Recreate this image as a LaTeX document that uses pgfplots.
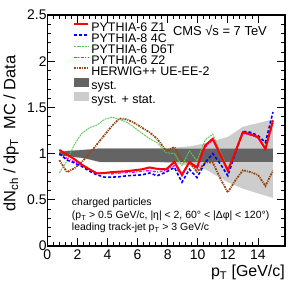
\documentclass[border=0pt]{standalone}
\usepackage{fontspec}
\setmainfont{Liberation Sans}
\usepackage{pgfplots}
\pgfplotsset{compat=1.18}
\definecolor{cred}{RGB}{255,0,0}
\definecolor{cblue}{RGB}{0,0,255}
\definecolor{cgreen}{RGB}{90,200,90}
\definecolor{cmag}{RGB}{255,0,255}
\definecolor{cbrown}{RGB}{150,70,20}
\definecolor{cdark}{RGB}{100,100,100}
\definecolor{clight}{RGB}{205,205,205}
\begin{document}
\begin{tikzpicture}
\path[use as bounding box] (-47.3bp,-39.3bp) rectangle (249.7bp,246bp);
\begin{axis}[
  at={(0,0)}, anchor=south west,
  scale only axis, width=237.7bp, height=231bp,
  xmin=0, xmax=15.8, ymin=0, ymax=2.5,
  xtick={0,2,...,14}, ytick={0,0.5,1,1.5,2,2.5},
  minor x tick num=4, minor y tick num=4,
  tick align=inside, major tick length=8bp, minor tick length=4bp,
  axis line style={line width=1.1bp},
  every tick/.style={black, line width=0.8bp},
  /pgf/number format/assume math mode=true,
  ticklabel style={font=\fontsize{14}{14}\selectfont},
  yticklabel style={inner sep=0.5bp},
  xticklabel style={inner sep=0bp, yshift=-4bp},
  xlabel={p\textsubscript{T} [GeV/c]},
  xlabel style={at={(rel axis cs:1,0)}, anchor=base east, yshift=-30.5bp, inner sep=0bp, font=\fontsize{16}{16}\selectfont},
  ylabel={dN\textsubscript{ch} / dp\textsubscript{T}\ \ MC / Data},
  ylabel style={at={(rel axis cs:-0.1338,0.487)}, anchor=base, inner sep=0bp, font=\fontsize{16.5}{16.5}\selectfont},
  legend style={draw=none, fill=none, at={(rel axis cs:0.107,0.967)}, anchor=north west,
    inner sep=0bp, outer sep=0bp, row sep=0bp,
    font=\fontsize{12.5}{12.5}\selectfont,
    nodes={text height=8.7bp, text depth=2.4bp, inner sep=0bp, outer sep=0bp}},
  legend cell align=left,
]
% legend entries
\addlegendimage{legend image code/.code={\draw[cred, line width=2bp] (0bp,4.3bp) -- (14.6bp,4.3bp);}}
\addlegendentry{\hspace{2bp}PYTHIA-6 Z1}
\addlegendimage{legend image code/.code={\draw[cblue, line width=1.6bp, dash pattern=on 3bp off 2bp] (0bp,4.3bp) -- (14.6bp,4.3bp);}}
\addlegendentry{\hspace{2bp}PYTHIA-8 4C}
\addlegendimage{legend image code/.code={\draw[cgreen, line width=0.9bp, dash pattern=on 2bp off 0.8bp] (0bp,4.3bp) -- (14.6bp,4.3bp);}}
\addlegendentry{\hspace{2bp}PYTHIA-6 D6T}
\addlegendimage{legend image code/.code={\draw[cmag, line width=1.3bp, dash pattern=on 3bp off 1.5bp on 1bp off 1.5bp] (0bp,4.3bp) -- (14.6bp,4.3bp);}}
\addlegendentry{\hspace{2bp}PYTHIA-6 Z2}
\addlegendimage{legend image code/.code={\draw[cbrown, line width=1.8bp, dash pattern=on 2bp off 1bp on 1bp off 1bp] (0bp,4.3bp) -- (14.6bp,4.3bp);}}
\addlegendentry{\hspace{2bp}HERWIG++ UE-EE-2}
\addlegendimage{legend image code/.code={\fill[cdark] (0.6bp,0.3bp) rectangle (14bp,8.3bp);}}
\addlegendentry{\hspace{2bp}syst.}
\addlegendimage{legend image code/.code={\fill[clight] (0.6bp,0.3bp) rectangle (14bp,8.3bp);}}
\addlegendentry{\hspace{2bp}syst. + stat.}

% syst + stat band
\addplot[fill=clight, draw=none, forget plot] coordinates {
 (0.8,1.025) (1.5,1.035) (2.5,1.045) (3.5,1.06) (7.5,1.06) (8.5,1.065) (9.5,1.08) (10.5,1.11) (12,1.18) (13,1.29) (14,1.33) (15,1.37)
 (15,0.52) (14,0.57) (13,0.62) (12,0.69) (10.5,0.83) (9.5,0.87) (8.5,0.89) (7.5,0.905) (3.5,0.905) (2.5,0.945) (1.5,0.965) (0.8,0.975)
} -- cycle;
% syst band
\addplot[fill=cdark, draw=none, forget plot] coordinates {
 (0.8,1.02) (1.5,1.03) (2.5,1.04) (3.5,1.055) (15,1.055)
 (15,0.91) (3.5,0.91) (2.5,0.95) (1.5,0.97) (0.8,0.98)
} -- cycle;

% HERWIG++
\addplot[cbrown, line width=1.8bp, dash pattern=on 2bp off 1bp on 1bp off 1bp, forget plot] coordinates {
 (0.8,0.93) (1.3,0.80) (1.8,0.84) (2.3,0.91) (2.8,1.00) (3.3,1.10) (3.8,1.20) (4.3,1.30) (4.8,1.38) (5.3,1.37)
 (5.8,1.33) (6.3,1.28) (6.8,1.23) (7.3,1.16) (7.9,1.03) (8.45,1.07) (8.95,0.92) (9.45,0.905) (9.95,0.80) (10.5,0.905)
 (11.0,0.905) (11.5,0.73) (12.0,0.58) (12.5,0.71) (13.0,0.82) (13.5,0.80) (14.0,0.77) (14.5,0.65) (15.0,0.815)
};
% D6T
\addplot[cgreen, line width=0.9bp, dash pattern=on 2bp off 0.8bp, forget plot] coordinates {
 (0.8,0.79) (1.3,0.92) (1.8,1.10) (2.3,1.22) (2.8,1.28) (3.3,1.31) (3.8,1.37) (4.3,1.395) (4.8,1.37) (5.3,1.34)
 (5.8,1.28) (6.3,1.22) (6.8,1.16) (7.3,1.12) (7.9,1.01) (8.45,1.00) (8.95,0.87) (9.45,1.03) (9.95,0.92) (10.5,1.15)
 (11.0,1.21) (11.5,1.02) (12.0,0.83) (12.5,1.03) (13.0,1.24) (13.5,1.22) (14.0,1.18) (14.5,1.06) (15.0,1.33)
};
% Z2
\addplot[cmag, line width=1.3bp, dash pattern=on 3bp off 1.5bp on 1bp off 1.5bp, forget plot] coordinates {
 (0.8,0.99) (1.3,0.95) (1.8,0.91) (2.3,0.87) (2.8,0.83) (3.3,0.79) (3.8,0.79) (4.3,0.78) (4.8,0.79) (5.3,0.795)
 (5.8,0.80) (6.3,0.81) (6.8,0.815) (7.3,0.80) (7.9,0.82) (8.45,0.87) (8.95,0.76) (9.45,0.90) (9.95,0.83) (10.5,1.07)
 (11.0,1.15) (11.5,0.98) (12.0,0.82) (12.5,1.02) (13.0,1.22) (13.5,1.20) (14.0,1.17) (14.5,1.05) (15.0,1.33)
};
% 4C
\addplot[cblue, line width=1.6bp, dash pattern=on 3bp off 2bp, forget plot] coordinates {
 (0.8,1.00) (1.3,0.93) (1.8,0.90) (2.3,0.86) (2.8,0.81) (3.3,0.77) (3.8,0.745) (4.3,0.745) (4.8,0.75) (5.3,0.76)
 (5.8,0.765) (6.3,0.77) (6.8,0.79) (7.3,0.76) (7.9,0.80) (8.45,0.85) (8.95,0.69) (9.45,0.83) (9.95,0.74) (10.5,0.905)
 (11.0,1.00) (11.5,0.89) (12.0,0.76) (12.5,1.01) (13.0,1.24) (13.5,1.23) (14.0,1.195) (14.5,1.12) (15.0,1.45)
};
% Z1
\addplot[cred, line width=2bp, forget plot] coordinates {
 (0.8,1.04) (1.3,0.99) (1.8,0.94) (2.3,0.88) (2.8,0.83) (3.3,0.785) (3.8,0.79) (4.3,0.80) (4.8,0.805) (5.3,0.81)
 (5.8,0.82) (6.3,0.83) (6.8,0.85) (7.3,0.835) (7.9,0.83) (8.45,0.91) (8.95,0.77) (9.45,0.91) (9.95,0.85) (10.5,1.09)
 (11.0,1.16) (11.5,0.99) (12.0,0.815) (12.5,1.02) (13.0,1.23) (13.5,1.21) (14.0,1.18) (14.5,1.05) (15.0,1.36)
};

\node[anchor=west, inner sep=0bp, font=\fontsize{13}{13}\selectfont] at (rel axis cs:0.528,0.935) {CMS √s = 7 TeV};
\node[anchor=base west, inner sep=0bp, font=\fontsize{10.5}{10.5}\selectfont] at (rel axis cs:0.103,0.1753) {charged particles};
\node[anchor=base west, inner sep=0bp, font=\fontsize{10.5}{10.5}\selectfont] at (rel axis cs:0.103,0.1177) {(p\textsubscript{T} > 0.5 GeV/c, |η| < 2, 60° < |Δφ| < 120°)};
\node[anchor=base west, inner sep=0bp, font=\fontsize{10.5}{10.5}\selectfont] at (rel axis cs:0.103,0.0658) {leading track-jet p\textsubscript{T} > 3 GeV/c};
\end{axis}
\end{tikzpicture}
\end{document}
